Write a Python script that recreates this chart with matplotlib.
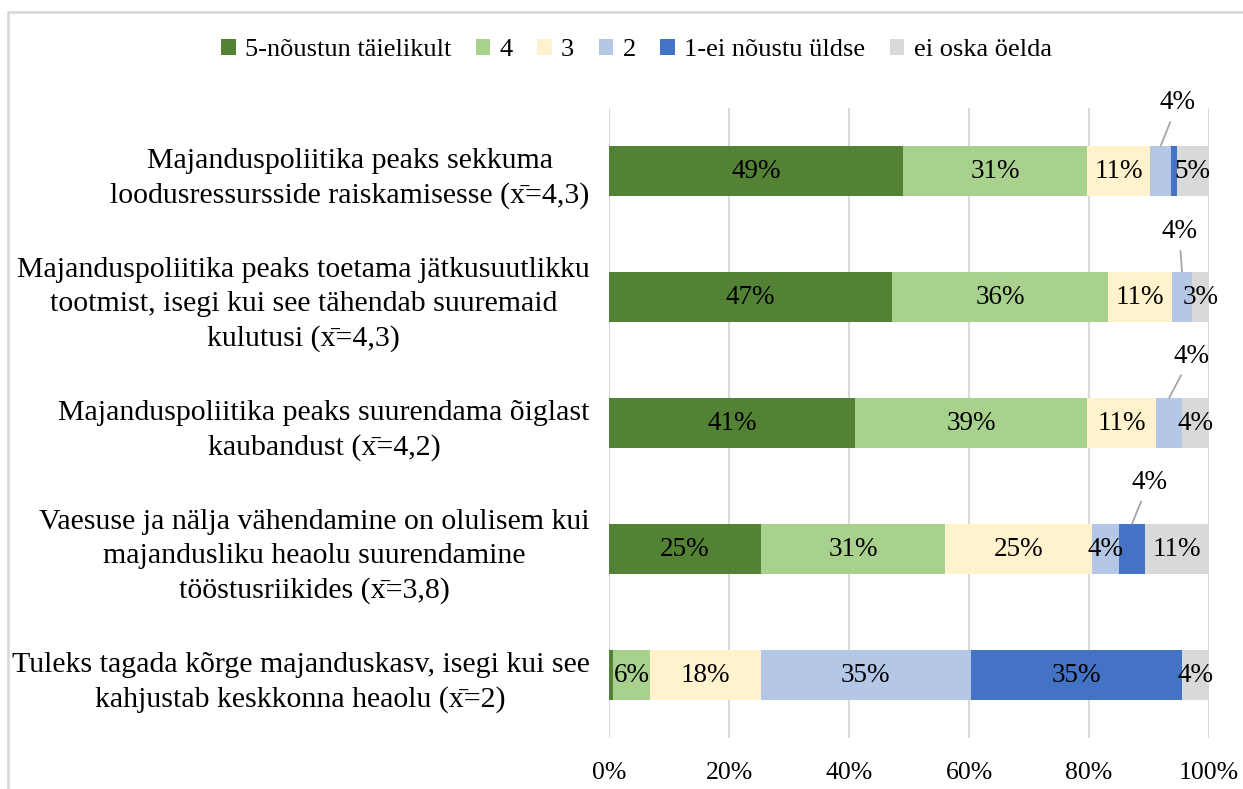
import numpy as np
import matplotlib.pyplot as plt
from matplotlib.patches import Rectangle

plt.rcParams["font.family"] = ["Liberation Serif", "DejaVu Serif"]

# andmed (loetud jooniselt, %)
categories = [
    "Majanduspoliitika peaks sekkuma\nloodusressursside raiskamisesse (x\u0304=4,3)",
    "Majanduspoliitika peaks toetama jätkusuutlikku\ntootmist, isegi kui see tähendab suuremaid\nkulutusi (x\u0304=4,3)",
    "Majanduspoliitika peaks suurendama õiglast\nkaubandust (x\u0304=4,2)",
    "Vaesuse ja nälja vähendamine on olulisem kui\nmajandusliku heaolu suurendamine\ntööstusriikides (x\u0304=3,8)",
    "Tuleks tagada kõrge majanduskasv, isegi kui see\nkahjustab keskkonna heaolu (x\u0304=2)",
]
series_names = ["5-nõustun täielikult", "4", "3", "2", "1-ei nõustu üldse", "ei oska öelda"]
s5 = [49.0, 47.2, 41.0, 25.3, 0.7]
s4 = [30.7, 36.0, 38.7, 30.7, 6.1]
s3 = [10.5, 10.6, 11.5, 24.5, 18.5]
s2 = [3.5, 3.4, 4.3, 4.5, 35.0]
s1 = [0.9, 0.0, 0.0, 4.3, 35.2]
s0 = [5.4, 2.8, 4.5, 10.7, 4.5]

# sildid lõikude sees ("" = pole silti, "out" = väljas joonega)
lab5 = ["49%", "47%", "41%", "25%", ""]
lab4 = ["31%", "36%", "39%", "31%", "6%"]
lab3 = ["11%", "11%", "11%", "25%", "18%"]
lab2 = ["out", "out", "out", "4%", "35%"]
lab1 = ["", "", "", "out", "35%"]
lab0 = ["5%", "3%", "4%", "11%", "4%"]

colors = ["#548235", "#A9D18E", "#FFF2CC", "#B4C7E7", "#4472C4", "#D9D9D9"]

fig = plt.figure(figsize=(12.43, 7.89), dpi=100)
ax = fig.add_axes([0.49, 0.0646, 0.4827, 0.7985])

data = [s5, s4, s3, s2, s1, s0]
labels = [lab5, lab4, lab3, lab2, lab1, lab0]
y = np.arange(len(categories))
left = np.zeros(len(categories))
bar_h = 0.4
# nihked väljas olevatele siltidele (x %, y)
out_pos = {0: (94.8, -0.54), 1: (95.0, -0.52), 2: (97.0, -0.53), 3: (90.0, -0.53)}

for vals, col, name, labs in zip(data, colors, series_names, labels):
    vals = np.array(vals)
    ax.barh(y, vals, left=left, height=bar_h, color=col, label=name, zorder=2)
    for i in range(len(y)):
        cx = left[i] + vals[i] / 2
        if labs[i] == "out":
            tx, ty = out_pos[i]
            ax.annotate("4%", xy=(cx, y[i] - bar_h / 2), xytext=(tx, y[i] + ty),
                        ha="center", va="center", fontsize=19.5, annotation_clip=False,
                        arrowprops=dict(arrowstyle="-", color="#A6A6A6", lw=1.3,
                                        shrinkA=3, shrinkB=0))
        elif labs[i]:
            ax.text(cx, y[i], labs[i], ha="center", va="center", fontsize=19.5, zorder=3)
    left = left + vals

ax.set_xlim(0, 100)
ax.set_ylim(len(categories) - 0.5, -0.5)
ax.set_xticks(np.arange(0, 101, 20))
ax.set_xticklabels([f"{t}%" for t in range(0, 101, 20)], fontsize=18.5)
ax.set_yticks(y)
ax.set_yticklabels(categories, fontsize=21.5, multialignment="center", linespacing=1.4)
ax.tick_params(axis="both", length=0)
ax.tick_params(axis="y", pad=14)
ax.tick_params(axis="x", pad=17)
ax.grid(axis="x", color="#D9D9D9", lw=1.5, zorder=0)
ax.set_axisbelow(True)
for sp in ax.spines.values():
    sp.set_visible(False)

fig.legend(loc="center", bbox_to_anchor=(0.512, 1 - 50 / 789), ncol=6, frameon=False,
           fontsize=19, handlelength=0.55, handleheight=0.55, handletextpad=0.35,
           columnspacing=0.93)

# raam ümber joonise
fig.patches.append(Rectangle((8 / 1243, -0.05), 1.1, 1 - 12 / 789 + 0.05,
                             transform=fig.transFigure, fill=False,
                             edgecolor="#D9D9D9", lw=2))

fig.savefig("out.png", dpi=100)
